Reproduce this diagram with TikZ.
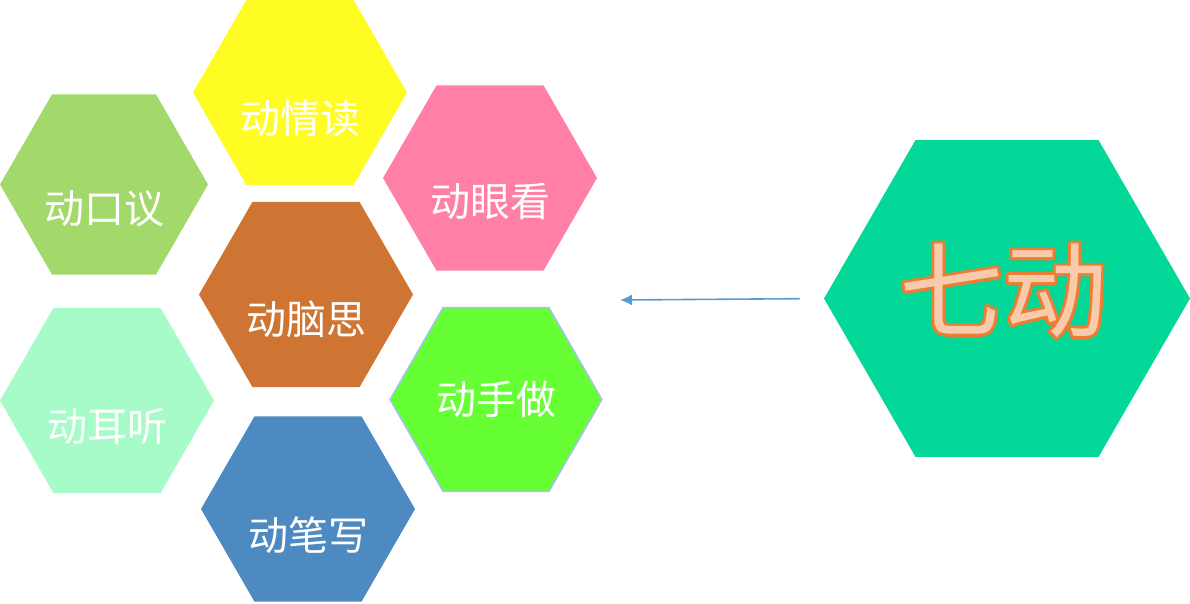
\documentclass[tikz,border=0pt]{standalone}
\usepackage{fontspec}
\usepackage{xcolor}
\usetikzlibrary{shapes,arrows.meta,positioning,calc}
\newfontfamily\cjk{Noto Sans CJK SC}
% outlined text: orange stroke underneath, plain fill on top
\newcommand\outlined[1]{\rlap{\special{pdf:literal direct 2 Tr 6 w 1 j 0.929 0.490 0.192 RG}#1\special{pdf:literal direct 0 Tr}}#1}

\definecolor{hexyellow}{HTML}{FFFC24}
\definecolor{hexlime}{HTML}{A3D86B}
\definecolor{hexpink}{HTML}{FF7FA6}
\definecolor{hexbrown}{HTML}{CF7534}
\definecolor{hexmint}{HTML}{A7FBC8}
\definecolor{hexgreen}{HTML}{66FF33}
\definecolor{hexedge}{HTML}{A4C2F4}
\definecolor{hexblue}{HTML}{4D8AC1}
\definecolor{hexteal}{HTML}{03D899}
\definecolor{titlefill}{HTML}{F8CBAD}
\definecolor{arrowblue}{HTML}{5B9BD5}

\begin{document}
\begin{tikzpicture}[
    x=1pt, y=-1pt,
    hexa/.style={regular polygon, regular polygon sides=6, minimum size=214pt, inner sep=0pt, outer sep=0pt},
    word/.style={text=white, inner sep=0pt, font=\cjk\fontsize{40}{48}\selectfont},
    arrow/.style={draw=arrowblue, line width=1.6pt, -{Latex[length=12pt,width=11pt]}}
]
\useasboundingbox (0,0) rectangle (1190,603);

% Hexagon cluster
\node[hexa, fill=hexyellow] (read) at (300,92.5) {};
\node[hexa, fill=hexlime, minimum size=208pt] (speak) at (104,184.5) {};
\node[hexa, fill=hexpink] (look) at (490,178) {};
\node[hexa, fill=hexbrown] (think) at (306,294.5) {};
\node[hexa, fill=hexmint] (listen) at (107,400.5) {};
\node[hexa, fill=hexgreen, draw=hexedge, line width=1.5pt, minimum size=212pt] (hands) at (496,399.5) {};
\node[hexa, fill=hexblue] (write) at (308,509) {};

% Hexagon texts
\node[word] (read-t) at ([yshift=-26pt]read.center) {动情读};
\node[word] (speak-t) at ([yshift=-24pt]speak.center) {动口议};
\node[word] (look-t) at ([yshift=-23pt]look.center) {动眼看};
\node[word] (think-t) at ([yshift=-25pt]think.center) {动脑思};
\node[word] (listen-t) at ([yshift=-26pt]listen.center) {动耳听};
\node[word] (hands-t) at (hands.center) {动手做};
\node[word] (write-t) at ([yshift=-26pt]write.center) {动笔写};

% Title hexagon
\node[hexa, fill=hexteal, minimum size=366pt] (seven) at (1007,298.5) {};
\node[inner sep=0pt, font=\cjk\fontsize{104}{120}\selectfont, text=titlefill] (seven-t)
    at ([xshift=-4pt, yshift=8pt]seven.center) {\outlined{七动}};

% Arrow
\coordinate (tip) at (620,300);
\draw[arrow, shorten <=24pt] (seven.west) -- (tip);

\end{tikzpicture}
\end{document}
